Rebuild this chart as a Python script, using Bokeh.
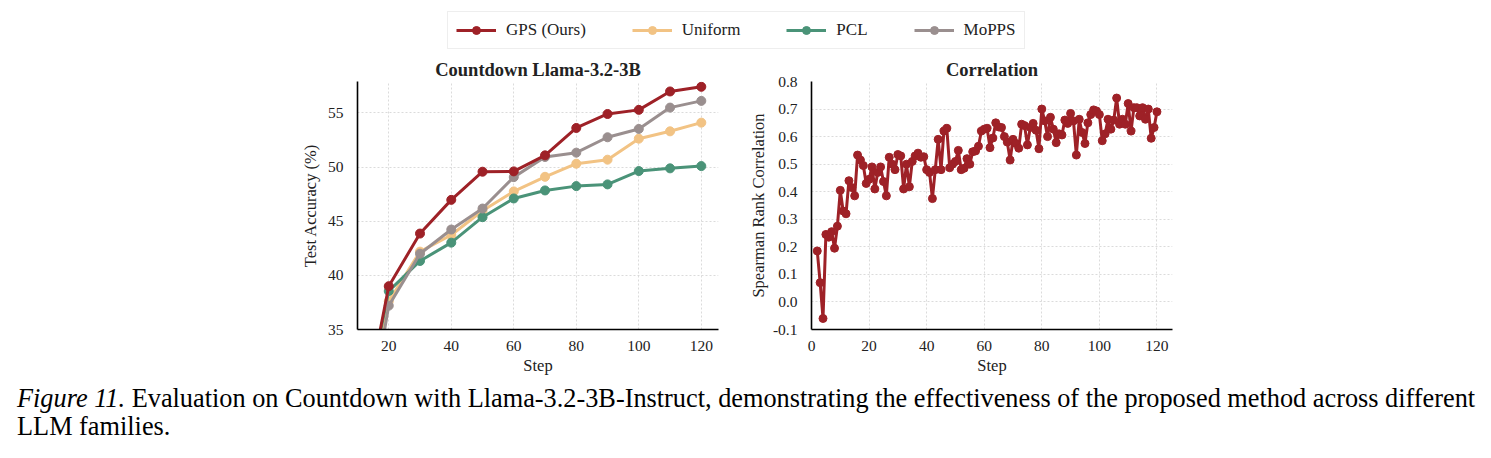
from bokeh.plotting import figure
from bokeh.layouts import column, row
from bokeh.models import (Range1d, FixedTicker, NumeralTickFormatter, Legend,
                          LegendItem, Div)
from bokeh.embed import file_html
from bokeh.resources import INLINE

# ---- data -------------------------------------------------------------
acc_steps = [10, 20, 30, 40, 50, 60, 70, 80, 90, 100, 110, 120]
acc_gps = [24.2, 39.0, 43.86, 46.97, 49.57, 49.6, 51.08, 53.61, 54.9, 55.28, 56.98, 57.41]
acc_uniform = [22.0, 37.6, 42.19, 43.73, 45.96, 47.75, 49.1, 50.31, 50.68, 52.62, 53.3, 54.1]
acc_pcl = [24.5, 38.55, 41.33, 43.02, 45.37, 47.1, 47.84, 48.24, 48.4, 49.63, 49.88, 50.09]
acc_mopps = [20.5, 37.2, 42.0, 44.23, 46.17, 49.07, 50.93, 51.33, 52.75, 53.52, 55.49, 56.11]

corr_steps = list(range(2, 121))
corr_values = [
    0.185, 0.07, -0.06, 0.245, 0.235, 0.255, 0.195, 0.275, 0.405, 0.33,
    0.32, 0.44, 0.415, 0.385, 0.533, 0.515, 0.495, 0.43, 0.445, 0.49,
    0.41, 0.47, 0.49, 0.437, 0.385, 0.525, 0.50, 0.48, 0.535, 0.53,
    0.41, 0.50, 0.418, 0.51, 0.53, 0.54, 0.525, 0.527, 0.48, 0.47,
    0.375, 0.48, 0.59, 0.48, 0.62, 0.63, 0.487, 0.50, 0.51, 0.55,
    0.48, 0.485, 0.52, 0.50, 0.545, 0.548, 0.565, 0.62, 0.627, 0.63,
    0.56, 0.595, 0.65, 0.635, 0.633, 0.60, 0.58, 0.515, 0.59, 0.575,
    0.558, 0.645, 0.64, 0.57, 0.633, 0.648, 0.623, 0.556, 0.70, 0.657,
    0.60, 0.67, 0.627, 0.578, 0.61, 0.606, 0.66, 0.648, 0.684, 0.657,
    0.533, 0.663, 0.615, 0.575, 0.65, 0.68, 0.697, 0.693, 0.68, 0.585,
    0.61, 0.663, 0.627, 0.66, 0.74, 0.645, 0.663, 0.645, 0.72, 0.62,
    0.705, 0.705, 0.675, 0.705, 0.663, 0.70, 0.594, 0.633, 0.69,
]

acc_ticks = [20, 40, 60, 80, 100, 120]
acc_yticks = [35, 40, 45, 50, 55]
corr_ticks = [0, 20, 40, 60, 80, 100, 120]
corr_yticks = [-0.1, 0.0, 0.1, 0.2, 0.3, 0.4, 0.5, 0.6, 0.7, 0.8]

series_names = ["GPS (Ours)", "Uniform", "PCL", "MoPPS"]
series_colors = {"GPS (Ours)": "#9e2127", "Uniform": "#f2c384",
                 "PCL": "#4a9378", "MoPPS": "#9a8f8f"}
series_values = {"GPS (Ours)": acc_gps, "Uniform": acc_uniform,
                 "PCL": acc_pcl, "MoPPS": acc_mopps}

FONT = "Liberation Serif"


def style_axes(p, xticks, yticks, ylabel_standoff=5):
    p.outline_line_color = None
    for ax in (p.xaxis[0], p.yaxis[0]):
        ax.axis_line_color = "black"
        ax.axis_line_width = 1.6
        ax.major_tick_line_color = None
        ax.minor_tick_line_color = None
        ax.major_label_text_font = FONT
        ax.major_label_text_font_size = "15.5px"
        ax.major_label_text_color = "#222222"
        ax.axis_label_text_font = FONT
        ax.axis_label_text_font_size = "16.5px"
        ax.axis_label_text_font_style = "normal"
        ax.axis_label_text_color = "#222222"
    p.xaxis[0].ticker = FixedTicker(ticks=xticks)
    p.yaxis[0].ticker = FixedTicker(ticks=yticks)
    p.xaxis[0].major_label_standoff = 5
    p.yaxis[0].major_label_standoff = 8
    p.xaxis[0].axis_label_standoff = 2
    p.yaxis[0].axis_label_standoff = ylabel_standoff
    for g in (p.xgrid[0], p.ygrid[0]):
        g.grid_line_color = "#d2d2d2"
        g.grid_line_width = 0.8
        g.grid_line_dash = "2 2"
    p.title.text_font = FONT
    p.title.text_font_size = "18.5px"
    p.title.text_font_style = "bold"
    p.title.text_color = "#222222"
    p.title.align = "center"
    p.title.standoff = 3


# ---- legend strip -----------------------------------------------------
leg_fig = figure(width=1491, height=52, toolbar_location=None, output_backend="svg",
                 x_range=Range1d(0, 1), y_range=Range1d(0, 1),
                 min_border=0, outline_line_color=None)
leg_fig.axis.visible = False
leg_fig.grid.visible = False
items = []
for name in series_names:
    # key glyphs only: the points sit outside the strip's visible range
    lr = leg_fig.line([-5, -4], [-5, -4], line_color=series_colors[name], line_width=3)
    sr = leg_fig.scatter([-5], [-5], marker="circle", size=8,
                         fill_color=series_colors[name], line_color=series_colors[name])
    items.append(LegendItem(label=name, renderers=[lr, sr]))
legend = Legend(items=items, orientation="horizontal", location=(447, 3),
                label_text_font=FONT, label_text_font_size="17px",
                label_text_color="#222222", glyph_width=40, glyph_height=20,
                label_standoff=10, spacing=46, padding=8, margin=0,
                border_line_color="#dddddd", border_line_width=1,
                background_fill_color="white", background_fill_alpha=1)
leg_fig.add_layout(legend, "center")

# ---- left: test accuracy ---------------------------------------------
p1 = figure(frame_width=361, frame_height=248, toolbar_location=None,
            output_backend="svg", x_range=Range1d(10, 125.5), y_range=Range1d(35, 57.9),
            min_border_left=357, min_border_right=27, min_border_top=29,
            min_border_bottom=55, title="Countdown Llama-3.2-3B")
p1.xaxis.axis_label = "Step"
p1.yaxis.axis_label = "Test Accuracy (%)"
style_axes(p1, acc_ticks, acc_yticks)
for name in ["Uniform", "PCL", "MoPPS", "GPS (Ours)"]:
    c = series_colors[name]
    p1.line(acc_steps, series_values[name], line_color=c, line_width=3)
    p1.scatter(acc_steps, series_values[name], marker="circle", size=9,
               fill_color=c, line_color=c)

# ---- right: rank correlation -----------------------------------------
p2 = figure(frame_width=361, frame_height=248, toolbar_location=None,
            output_backend="svg", x_range=Range1d(0, 125.4), y_range=Range1d(-0.1, 0.8),
            min_border_left=66, min_border_right=319, min_border_top=29,
            min_border_bottom=55, title="Correlation")
p2.xaxis.axis_label = "Step"
p2.yaxis.axis_label = "Spearman Rank Correlation"
style_axes(p2, corr_ticks, corr_yticks, ylabel_standoff=2)
p2.yaxis[0].formatter = NumeralTickFormatter(format="0.0")
gps_c = series_colors["GPS (Ours)"]
p2.line(corr_steps, corr_values, line_color=gps_c, line_width=3)
p2.scatter(corr_steps, corr_values, marker="circle", size=8,
           fill_color=gps_c, line_color=gps_c)

# ---- caption ----------------------------------------------------------
caption = Div(
    text=("<i>Figure 11.</i> Evaluation on Countdown with Llama-3.2-3B-Instruct, "
          "demonstrating the effectiveness of the proposed method across different<br>"
          "LLM families."),
    width=1491, height=74, margin=0,
    styles={"font-family": FONT, "font-size": "26.3px", "line-height": "28px",
            "padding-left": "17px", "padding-top": "1px", "color": "black",
            "white-space": "nowrap"})

layout = column(leg_fig, row(p1, p2, spacing=0), caption, spacing=0)

with open("out.html", "w") as f:
    f.write(file_html(layout, INLINE))
